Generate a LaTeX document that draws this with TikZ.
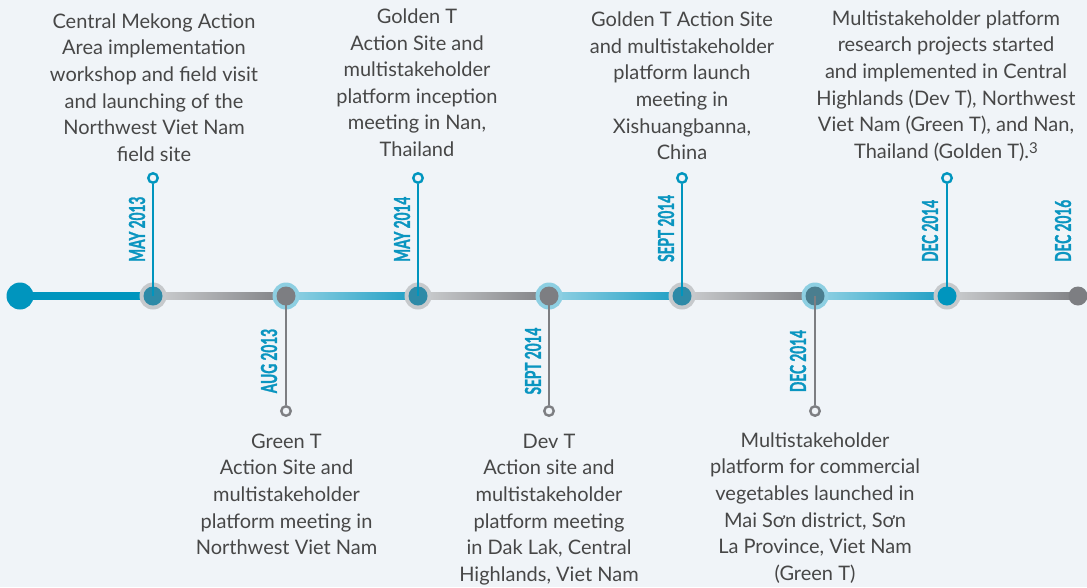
\documentclass[tikz,border=0pt]{standalone}
\usepackage{fontspec}
\setmainfont{Lato}
\newfontfamily\datefont[FakeStretch=0.62,FakeBold=1.2]{Lato}
\usetikzlibrary{calc}
\definecolor{bg}{HTML}{F0F4F8}
\definecolor{mainblue}{HTML}{0095BE}
\definecolor{tealdot}{HTML}{2E8AA7}
\definecolor{darkteal}{HTML}{4A7E8F}
\definecolor{graydot}{HTML}{7D7E82}
\definecolor{halogray}{HTML}{C6C9CC}
\definecolor{haloblue}{HTML}{8DCFE2}
\definecolor{lgA}{HTML}{CDCFD1}
\definecolor{lgB}{HTML}{7F8084}
\definecolor{lbA}{HTML}{93D2E4}
\definecolor{lbB}{HTML}{1C9DC3}
\definecolor{txt}{HTML}{474747}
\definecolor{datec}{HTML}{0A95C0}
\newcommand{\descfont}{\fontsize{20}{26.6}\selectfont}
\newcommand{\tstrut}{\rule{0pt}{20pt}}
\tikzset{
  desc/.style={align=center, font=\descfont, text=txt, inner sep=0pt, anchor=north},
  datelbl/.style={rotate=90, font=\datefont\bfseries\fontsize{22}{22}\selectfont, text=datec, inner sep=0pt},
  dot/.style={circle, inner sep=0pt, minimum size=19pt},
  pin/.style={circle, inner sep=0pt, minimum size=9.5pt, line width=2.4pt, fill=bg},
  upstem/.style={draw=mainblue, line width=2.6pt},
  downstem/.style={draw=graydot, line width=2.6pt},
}
\begin{document}
\begin{tikzpicture}[x=1pt,y=-1pt]
\fill[bg] (0,0) rectangle (1087,587);
\useasboundingbox (0,0) rectangle (1087,587);
% positions
\coordinate (c0) at (20,296);
\coordinate (c1) at (153,296);
\coordinate (c2) at (286,296);
\coordinate (c3) at (418,296);
\coordinate (c4) at (549,296);
\coordinate (c5) at (682,296);
\coordinate (c6) at (815,296);
\coordinate (c7) at (947,296);
\coordinate (c8) at (1078,296);
% line segments
\fill[mainblue] ($(c0)+(0,-3.6)$) rectangle ($(c1)+(0,3.6)$);
\shade[left color=lgA, right color=lgB] ($(c1)+(0,-3.6)$) rectangle ($(c2)+(0,3.6)$);
\shade[left color=lbA, right color=lbB] ($(c2)+(0,-3.6)$) rectangle ($(c3)+(0,3.6)$);
\shade[left color=lgA, right color=lgB] ($(c3)+(0,-3.6)$) rectangle ($(c4)+(0,3.6)$);
\shade[left color=lbA, right color=lbB] ($(c4)+(0,-3.6)$) rectangle ($(c5)+(0,3.6)$);
\shade[left color=lgA, right color=lgB] ($(c5)+(0,-3.6)$) rectangle ($(c6)+(0,3.6)$);
\shade[left color=lbA, right color=lbB] ($(c6)+(0,-3.6)$) rectangle ($(c7)+(0,3.6)$);
\shade[left color=lgA, right color=lgB] ($(c7)+(0,-3.6)$) rectangle ($(c8)+(0,3.6)$);
% halos
\fill[halogray] (c1) circle (13.5);
\fill[haloblue] (c2) circle (13.5);
\fill[halogray] (c3) circle (13.5);
\fill[haloblue] (c4) circle (13.5);
\fill[halogray] (c5) circle (13.5);
\fill[haloblue] (c6) circle (13.5);
\fill[halogray] (c7) circle (13.5);
% dots
\node[dot, fill=mainblue, minimum size=27pt] (d0) at (c0) {};
\node[dot, fill=tealdot] (d1) at (c1) {};
\node[dot, fill=graydot] (d2) at (c2) {};
\node[dot, fill=tealdot] (d3) at (c3) {};
\node[dot, fill=graydot] (d4) at (c4) {};
\node[dot, fill=tealdot] (d5) at (c5) {};
\node[dot, fill=darkteal] (d6) at (c6) {};
\node[dot, fill=mainblue] (d7) at (c7) {};
\node[dot, fill=graydot] (d8) at (c8) {};
% pins
\node[pin, draw=mainblue] (p1) at (153,178) {};
\node[pin, draw=graydot] (p2) at (286,411) {};
\node[pin, draw=mainblue] (p3) at (418,178) {};
\node[pin, draw=graydot] (p4) at (549,411) {};
\node[pin, draw=mainblue] (p5) at (682,178) {};
\node[pin, draw=graydot] (p6) at (815,411) {};
\node[pin, draw=mainblue] (p7) at (947,178) {};
% stems
\draw[upstem] (d1.center) -- (p1);
\draw[downstem] (d2.center) -- (p2);
\draw[upstem] (d3.center) -- (p3);
\draw[downstem] (d4.center) -- (p4);
\draw[upstem] (d5.center) -- (p5);
\draw[downstem] (d6.center) -- (p6);
\draw[upstem] (d7.center) -- (p7);
% dates
\node[datelbl, anchor=west] (t1) at (137,262) {MAY 2013};
\node[datelbl] (t2) at (269,361) {AUG 2013};
\node[datelbl, anchor=west] (t3) at (402,262) {MAY 2014};
\node[datelbl] (t4) at (533,361) {SEPT 2014};
\node[datelbl, anchor=west] (t5) at (666,262) {SEPT 2014};
\node[datelbl] (t6) at (798,361) {DEC 2014};
\node[datelbl, anchor=west] (t7) at (930,262) {DEC 2014};
\node[datelbl, anchor=west] (t8) at (1063,262) {DEC 2016};
% descriptions
\node[desc] (a1) at (154,8) {\tstrut Central Mekong Action\\Area implementation\\workshop and field visit\\and launching of the\\Northwest Viet Nam\\field site};
\node[desc] (a2) at (417,3.3) {\tstrut Golden T\\Action Site and\\multistakeholder\\platform inception\\meeting in Nan,\\Thailand};
\node[desc] (a3) at (682,6.5) {\tstrut Golden T Action Site\\and multistakeholder\\platform launch\\meeting in\\Xishuangbanna,\\China};
\node[desc] (a4) at (946,5) {\tstrut Multistakeholder platform\\research projects started\\and implemented in Central\\Highlands (Dev T), Northwest\\Viet Nam (Green T), and Nan,\\Thailand (Golden T).\raisebox{0.5ex}{\fontsize{15}{15}\selectfont 3}};
\node[desc] (b1) at (286.5,428) {\tstrut Green T\\Action Site and\\multistakeholder\\platform meeting in\\Northwest Viet Nam};
\node[desc] (b2) at (549,428) {\tstrut Dev T\\Action site and\\multistakeholder\\platform meeting\\in Dak Lak, Central\\Highlands, Viet Nam};
\node[desc] (b3) at (815,427) {\tstrut Multistakeholder\\platform for commercial\\vegetables launched in\\Mai Sơn district, Sơn\\La Province, Viet Nam\\(Green T)};
\end{tikzpicture}
\end{document}
